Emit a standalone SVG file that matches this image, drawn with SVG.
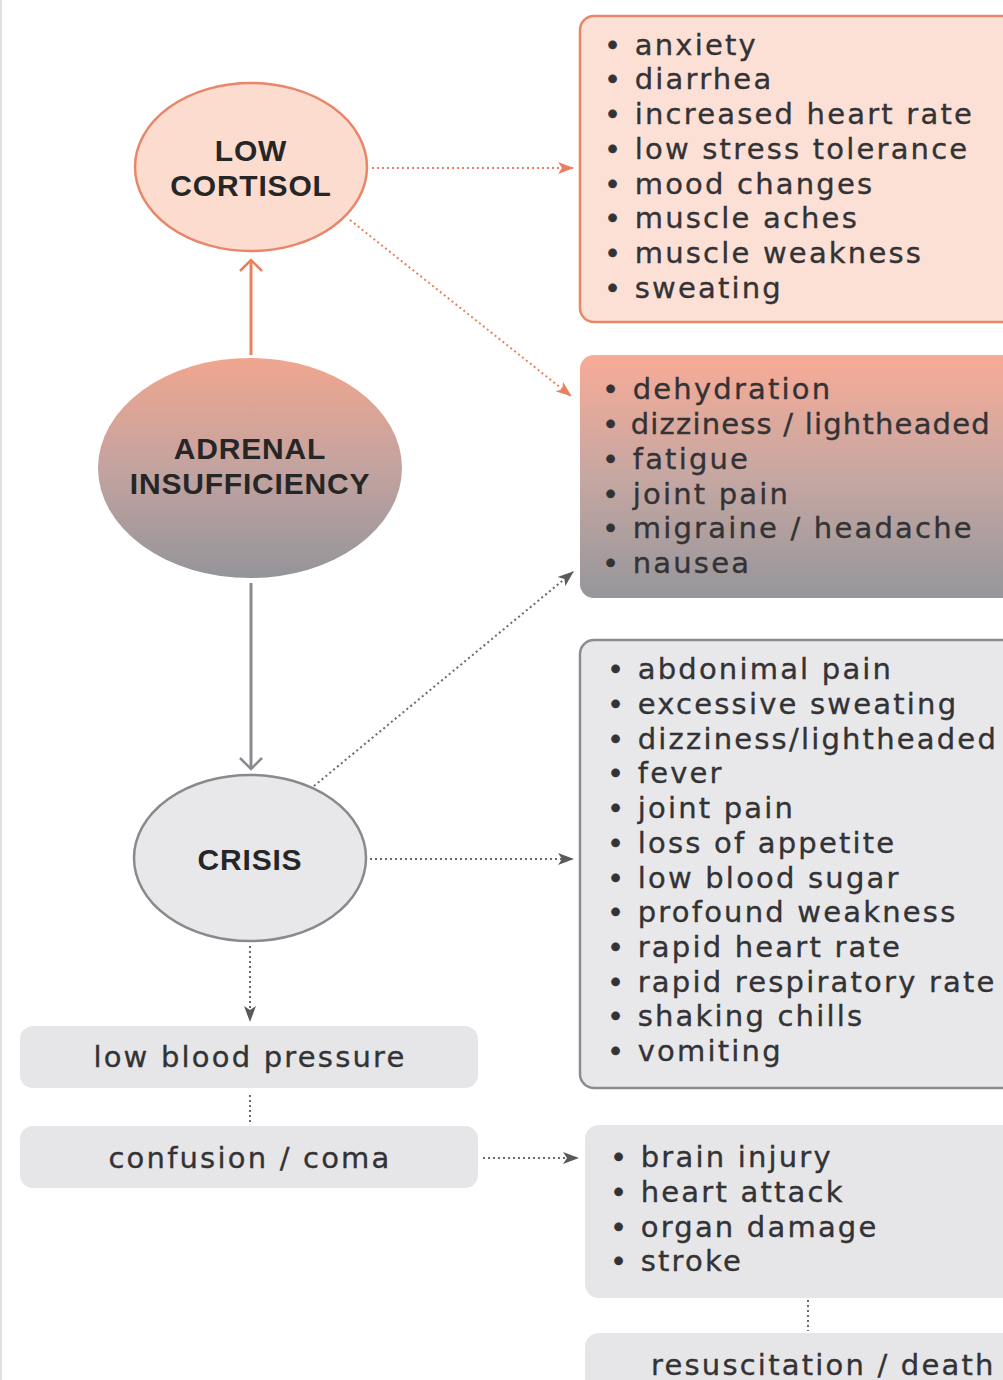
<svg xmlns="http://www.w3.org/2000/svg" width="1003" height="1380" viewBox="0 0 1003 1380">
<defs>
<linearGradient id="gAdr" x1="0" y1="0" x2="0" y2="1">
<stop offset="0" stop-color="#f0a68f"/>
<stop offset="0.5" stop-color="#c4a39f"/>
<stop offset="1" stop-color="#94949a"/>
</linearGradient>
<linearGradient id="gBox2" x1="0" y1="0" x2="0" y2="1">
<stop offset="0" stop-color="#f8ab96"/>
<stop offset="0.5" stop-color="#c6a7a2"/>
<stop offset="1" stop-color="#96969b"/>
</linearGradient>
<marker id="arS" viewBox="0 0 16 14" refX="15" refY="7" markerWidth="16" markerHeight="14" markerUnits="userSpaceOnUse" orient="auto">
<path d="M0,1 L16,7 L0,13 L4,7 Z" fill="#e8805f"/>
</marker>
<marker id="arG" viewBox="0 0 16 14" refX="15" refY="7" markerWidth="16" markerHeight="14" markerUnits="userSpaceOnUse" orient="auto">
<path d="M0,1 L16,7 L0,13 L4,7 Z" fill="#5a5a5e"/>
</marker>
<style>
.lab{font-family:"Liberation Sans",Arial,sans-serif;font-weight:bold;font-size:30px;fill:#262626;text-anchor:middle;letter-spacing:0.8px}
.t{font-family:"DejaVu Sans",Verdana,sans-serif;font-size:29px;fill:#333335;stroke:#333335;stroke-width:0.35;letter-spacing:2.2px}
.tc{font-family:"DejaVu Sans",Verdana,sans-serif;font-size:29px;fill:#333335;stroke:#333335;stroke-width:0.35;letter-spacing:2.2px;text-anchor:middle}
.dotS{fill:none;stroke:#e8805f;stroke-width:2;stroke-dasharray:2 3}
.dotG{fill:none;stroke:#6a6a6e;stroke-width:2;stroke-dasharray:2 3}
</style>
</defs>
<rect width="1003" height="1380" fill="#ffffff"/>
<line x1="1" y1="0" x2="1" y2="1380" stroke="#d6d6d6" stroke-width="1.5"/>

<g id="connectors">
<line x1="251" y1="355" x2="251" y2="260" stroke="#e8805f" stroke-width="3"/>
<path d="M240,271 L251,260 L262,271" fill="none" stroke="#e8805f" stroke-width="2.5"/>
<line x1="251" y1="583" x2="251" y2="768" stroke="#8a8a8e" stroke-width="3"/>
<path d="M240,758 L251,769 L262,758" fill="none" stroke="#8a8a8e" stroke-width="2.5"/>
<line class="dotS" x1="372" y1="168" x2="573" y2="168" marker-end="url(#arS)"/>
<line class="dotS" x1="350" y1="220" x2="571" y2="396" marker-end="url(#arS)"/>
<line class="dotG" x1="314" y1="786" x2="573" y2="572" marker-end="url(#arG)"/>
<line class="dotG" x1="370" y1="859" x2="573" y2="859" marker-end="url(#arG)"/>
<line class="dotG" x1="250" y1="946" x2="250" y2="1021" marker-end="url(#arG)"/>
<line class="dotG" x1="250" y1="1095" x2="250" y2="1122"/>
<line class="dotG" x1="483" y1="1158" x2="578" y2="1158" marker-end="url(#arG)"/>
<line class="dotG" x1="808" y1="1300" x2="808" y2="1331"/>
</g>

<g id="low-cortisol">
<ellipse cx="251" cy="167" rx="116" ry="84" fill="#fcdccf" stroke="#e8866a" stroke-width="2.5"/>
<text class="lab" x="251" y="161">LOW</text>
<text class="lab" x="251" y="196">CORTISOL</text>
</g>

<g id="adrenal-insufficiency">
<ellipse cx="250" cy="468" rx="152" ry="110" fill="url(#gAdr)"/>
<text class="lab" x="250" y="459">ADRENAL</text>
<text class="lab" x="250" y="494">INSUFFICIENCY</text>
</g>

<g id="crisis">
<ellipse cx="250" cy="858" rx="116" ry="83" fill="#e8e8ea" stroke="#8a8a8e" stroke-width="2.5"/>
<text class="lab" x="250" y="870">CRISIS</text>
</g>

<g id="low-cortisol-symptoms">
<rect x="580" y="16" width="440" height="306" rx="14" fill="#fde0d5" stroke="#e8866a" stroke-width="2.5"/>
<text class="t" x="604" y="55">• anxiety</text>
<text class="t" x="604" y="89">• diarrhea</text>
<text class="t" x="604" y="124">• increased heart rate</text>
<text class="t" x="604" y="159">• low stress tolerance</text>
<text class="t" x="604" y="194">• mood changes</text>
<text class="t" x="604" y="228">• muscle aches</text>
<text class="t" x="604" y="263">• muscle weakness</text>
<text class="t" x="604" y="298">• sweating</text>
</g>

<g id="shared-symptoms">
<rect x="580" y="355" width="440" height="243" rx="14" fill="url(#gBox2)"/>
<text class="t" x="602" y="399">• dehydration</text>
<text class="t" x="602" y="434" style="letter-spacing:1.2px">• dizziness / lightheaded</text>
<text class="t" x="602" y="469">• fatigue</text>
<text class="t" x="602" y="504">• joint pain</text>
<text class="t" x="602" y="538">• migraine / headache</text>
<text class="t" x="602" y="573">• nausea</text>
</g>

<g id="crisis-symptoms">
<rect x="580" y="640" width="440" height="448" rx="14" fill="#e8e8ea" stroke="#8c8c90" stroke-width="2.5"/>
<text class="t" x="607" y="679">• abdonimal pain</text>
<text class="t" x="607" y="714">• excessive sweating</text>
<text class="t" x="607" y="749">• dizziness/lightheaded</text>
<text class="t" x="607" y="783">• fever</text>
<text class="t" x="607" y="818">• joint pain</text>
<text class="t" x="607" y="853">• loss of appetite</text>
<text class="t" x="607" y="888">• low blood sugar</text>
<text class="t" x="607" y="922">• profound weakness</text>
<text class="t" x="607" y="957">• rapid heart rate</text>
<text class="t" x="607" y="992">• rapid respiratory rate</text>
<text class="t" x="607" y="1026">• shaking chills</text>
<text class="t" x="607" y="1061">• vomiting</text>
</g>

<g id="low-blood-pressure">
<rect x="20" y="1026" width="458" height="62" rx="13" fill="#e6e6e8"/>
<text class="tc" x="250" y="1067">low blood pressure</text>
</g>

<g id="confusion-coma">
<rect x="20" y="1126" width="458" height="62" rx="13" fill="#e6e6e8"/>
<text class="tc" x="250" y="1168">confusion / coma</text>
</g>

<g id="complications">
<rect x="585" y="1125" width="440" height="173" rx="14" fill="#e6e6e8"/>
<text class="t" x="610" y="1167">• brain injury</text>
<text class="t" x="610" y="1202">• heart attack</text>
<text class="t" x="610" y="1237">• organ damage</text>
<text class="t" x="610" y="1271">• stroke</text>
</g>

<g id="resuscitation-death">
<rect x="585" y="1333" width="440" height="80" rx="14" fill="#e6e6e8"/>
<text class="t" x="651" y="1375">resuscitation / death</text>
</g>
</svg>
